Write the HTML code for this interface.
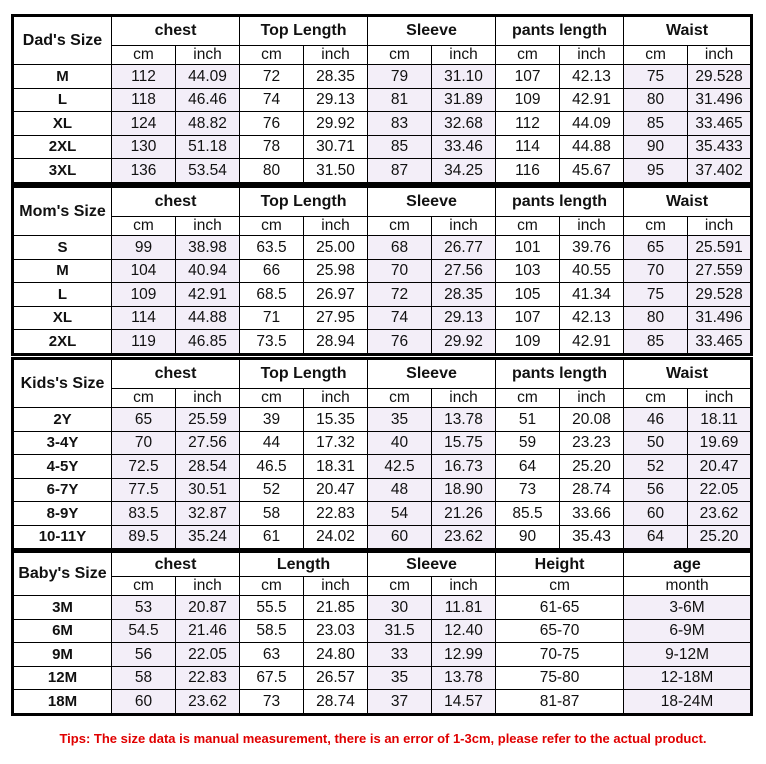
<!DOCTYPE html>
<html><head><meta charset="utf-8"><style>
body{margin:0;width:766px;height:764px;background:#fff;position:relative;font-family:"Liberation Sans",sans-serif;color:#111;}
table{position:absolute;left:11px;width:740px;border-collapse:collapse;table-layout:fixed;border:3px solid #000;}
td{border:1px solid #000;text-align:center;padding:0;font-size:15.5px;line-height:1;overflow:hidden;white-space:nowrap;}
td.h{font-weight:bold;font-size:16px;}
td.lab{font-weight:bold;font-size:15px;}
td.s{background:#f3eef8;}
tr.r td{height:22.5px;}
tr.t td{height:28px;}
tr.u td{height:18px;}
tr.tb td{height:23px;}
.tip{position:absolute;left:0;width:766px;top:731px;text-align:center;color:#e00000;font-weight:bold;font-size:13px;}
</style></head><body>
<table style="top:14px"><colgroup><col style="width:99px"><col span="10" style="width:64px"></colgroup>
<tr class="t"><td rowspan="2" class="h">Dad's Size</td><td colspan="2" class="h">chest</td><td colspan="2" class="h">Top Length</td><td colspan="2" class="h">Sleeve</td><td colspan="2" class="h">pants length</td><td colspan="2" class="h">Waist</td></tr>
<tr class="u"><td>cm</td><td>inch</td><td>cm</td><td>inch</td><td>cm</td><td>inch</td><td>cm</td><td>inch</td><td>cm</td><td>inch</td></tr>
<tr class="r"><td class="lab">M</td><td class="s">112</td><td class="s">44.09</td><td>72</td><td>28.35</td><td class="s">79</td><td class="s">31.10</td><td>107</td><td>42.13</td><td class="s">75</td><td class="s">29.528</td></tr>
<tr class="r"><td class="lab">L</td><td class="s">118</td><td class="s">46.46</td><td>74</td><td>29.13</td><td class="s">81</td><td class="s">31.89</td><td>109</td><td>42.91</td><td class="s">80</td><td class="s">31.496</td></tr>
<tr class="r"><td class="lab">XL</td><td class="s">124</td><td class="s">48.82</td><td>76</td><td>29.92</td><td class="s">83</td><td class="s">32.68</td><td>112</td><td>44.09</td><td class="s">85</td><td class="s">33.465</td></tr>
<tr class="r"><td class="lab">2XL</td><td class="s">130</td><td class="s">51.18</td><td>78</td><td>30.71</td><td class="s">85</td><td class="s">33.46</td><td>114</td><td>44.88</td><td class="s">90</td><td class="s">35.433</td></tr>
<tr class="r"><td class="lab">3XL</td><td class="s">136</td><td class="s">53.54</td><td>80</td><td>31.50</td><td class="s">87</td><td class="s">34.25</td><td>116</td><td>45.67</td><td class="s">95</td><td class="s">37.402</td></tr>
</table>
<table style="top:185px"><colgroup><col style="width:99px"><col span="10" style="width:64px"></colgroup>
<tr class="t"><td rowspan="2" class="h">Mom's Size</td><td colspan="2" class="h">chest</td><td colspan="2" class="h">Top Length</td><td colspan="2" class="h">Sleeve</td><td colspan="2" class="h">pants length</td><td colspan="2" class="h">Waist</td></tr>
<tr class="u"><td>cm</td><td>inch</td><td>cm</td><td>inch</td><td>cm</td><td>inch</td><td>cm</td><td>inch</td><td>cm</td><td>inch</td></tr>
<tr class="r"><td class="lab">S</td><td class="s">99</td><td class="s">38.98</td><td>63.5</td><td>25.00</td><td class="s">68</td><td class="s">26.77</td><td>101</td><td>39.76</td><td class="s">65</td><td class="s">25.591</td></tr>
<tr class="r"><td class="lab">M</td><td class="s">104</td><td class="s">40.94</td><td>66</td><td>25.98</td><td class="s">70</td><td class="s">27.56</td><td>103</td><td>40.55</td><td class="s">70</td><td class="s">27.559</td></tr>
<tr class="r"><td class="lab">L</td><td class="s">109</td><td class="s">42.91</td><td>68.5</td><td>26.97</td><td class="s">72</td><td class="s">28.35</td><td>105</td><td>41.34</td><td class="s">75</td><td class="s">29.528</td></tr>
<tr class="r"><td class="lab">XL</td><td class="s">114</td><td class="s">44.88</td><td>71</td><td>27.95</td><td class="s">74</td><td class="s">29.13</td><td>107</td><td>42.13</td><td class="s">80</td><td class="s">31.496</td></tr>
<tr class="r"><td class="lab">2XL</td><td class="s">119</td><td class="s">46.85</td><td>73.5</td><td>28.94</td><td class="s">76</td><td class="s">29.92</td><td>109</td><td>42.91</td><td class="s">85</td><td class="s">33.465</td></tr>
</table>
<table style="top:357px"><colgroup><col style="width:99px"><col span="10" style="width:64px"></colgroup>
<tr class="t"><td rowspan="2" class="h">Kids's Size</td><td colspan="2" class="h">chest</td><td colspan="2" class="h">Top Length</td><td colspan="2" class="h">Sleeve</td><td colspan="2" class="h">pants length</td><td colspan="2" class="h">Waist</td></tr>
<tr class="u"><td>cm</td><td>inch</td><td>cm</td><td>inch</td><td>cm</td><td>inch</td><td>cm</td><td>inch</td><td>cm</td><td>inch</td></tr>
<tr class="r"><td class="lab">2Y</td><td class="s">65</td><td class="s">25.59</td><td>39</td><td>15.35</td><td class="s">35</td><td class="s">13.78</td><td>51</td><td>20.08</td><td class="s">46</td><td class="s">18.11</td></tr>
<tr class="r"><td class="lab">3-4Y</td><td class="s">70</td><td class="s">27.56</td><td>44</td><td>17.32</td><td class="s">40</td><td class="s">15.75</td><td>59</td><td>23.23</td><td class="s">50</td><td class="s">19.69</td></tr>
<tr class="r"><td class="lab">4-5Y</td><td class="s">72.5</td><td class="s">28.54</td><td>46.5</td><td>18.31</td><td class="s">42.5</td><td class="s">16.73</td><td>64</td><td>25.20</td><td class="s">52</td><td class="s">20.47</td></tr>
<tr class="r"><td class="lab">6-7Y</td><td class="s">77.5</td><td class="s">30.51</td><td>52</td><td>20.47</td><td class="s">48</td><td class="s">18.90</td><td>73</td><td>28.74</td><td class="s">56</td><td class="s">22.05</td></tr>
<tr class="r"><td class="lab">8-9Y</td><td class="s">83.5</td><td class="s">32.87</td><td>58</td><td>22.83</td><td class="s">54</td><td class="s">21.26</td><td>85.5</td><td>33.66</td><td class="s">60</td><td class="s">23.62</td></tr>
<tr class="r"><td class="lab">10-11Y</td><td class="s">89.5</td><td class="s">35.24</td><td>61</td><td>24.02</td><td class="s">60</td><td class="s">23.62</td><td>90</td><td>35.43</td><td class="s">64</td><td class="s">25.20</td></tr>
</table>
<table style="top:550px"><colgroup><col style="width:99px"><col span="10" style="width:64px"></colgroup>
<tr class="tb"><td rowspan="2" class="h">Baby's Size</td><td colspan="2" class="h">chest</td><td colspan="2" class="h">Length</td><td colspan="2" class="h">Sleeve</td><td colspan="2" class="h">Height</td><td colspan="2" class="h">age</td></tr>
<tr class="u"><td>cm</td><td>inch</td><td>cm</td><td>inch</td><td>cm</td><td>inch</td><td colspan="2">cm</td><td colspan="2">month</td></tr>
<tr class="r"><td class="lab">3M</td><td class="s">53</td><td class="s">20.87</td><td>55.5</td><td>21.85</td><td class="s">30</td><td class="s">11.81</td><td colspan="2">61-65</td><td colspan="2" class="s">3-6M</td></tr>
<tr class="r"><td class="lab">6M</td><td class="s">54.5</td><td class="s">21.46</td><td>58.5</td><td>23.03</td><td class="s">31.5</td><td class="s">12.40</td><td colspan="2">65-70</td><td colspan="2" class="s">6-9M</td></tr>
<tr class="r"><td class="lab">9M</td><td class="s">56</td><td class="s">22.05</td><td>63</td><td>24.80</td><td class="s">33</td><td class="s">12.99</td><td colspan="2">70-75</td><td colspan="2" class="s">9-12M</td></tr>
<tr class="r"><td class="lab">12M</td><td class="s">58</td><td class="s">22.83</td><td>67.5</td><td>26.57</td><td class="s">35</td><td class="s">13.78</td><td colspan="2">75-80</td><td colspan="2" class="s">12-18M</td></tr>
<tr class="r"><td class="lab">18M</td><td class="s">60</td><td class="s">23.62</td><td>73</td><td>28.74</td><td class="s">37</td><td class="s">14.57</td><td colspan="2">81-87</td><td colspan="2" class="s">18-24M</td></tr>
</table>
<div class="tip">Tips: The size data is manual measurement, there is an error of 1-3cm, please refer to the actual product.</div>
</body></html>
